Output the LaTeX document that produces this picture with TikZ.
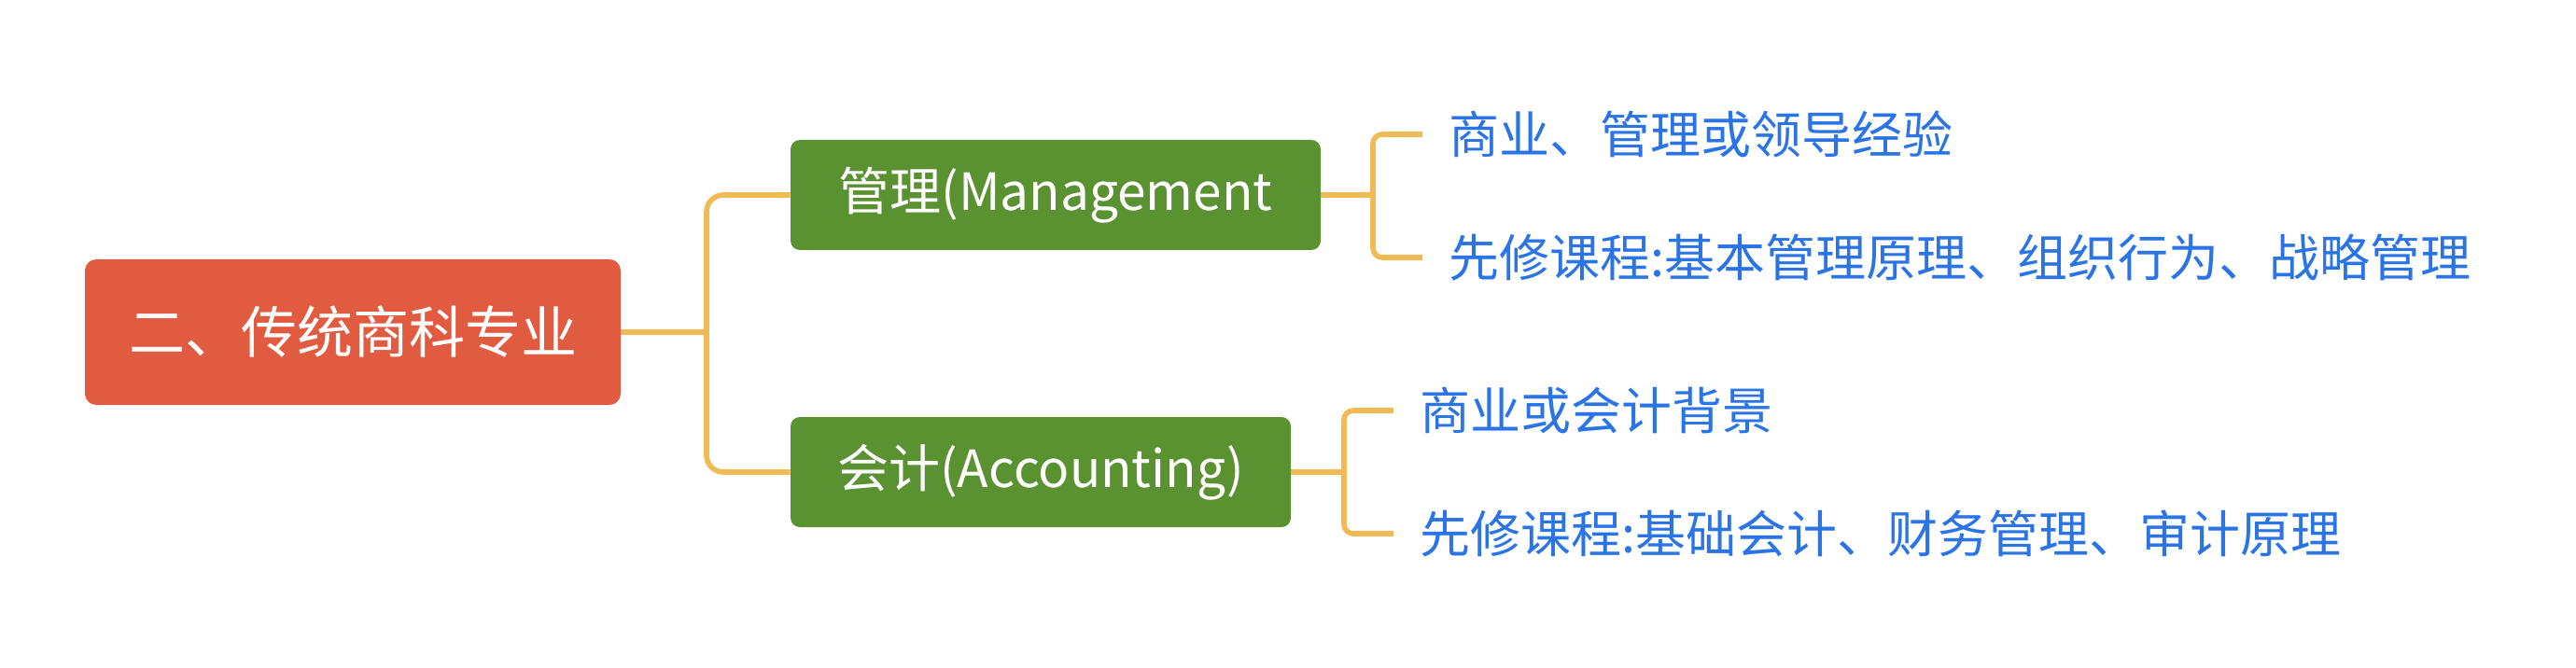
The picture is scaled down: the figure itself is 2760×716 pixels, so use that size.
\documentclass[tikz,border=0pt]{standalone}
\usepackage{fontspec}
\setmainfont{Noto Sans CJK SC}
\definecolor{rootred}{HTML}{E05B40}
\definecolor{topicgreen}{HTML}{5A9131}
\definecolor{linkyellow}{HTML}{F0BA55}
\definecolor{leafblue}{HTML}{2B74E6}

\begin{document}
\begin{tikzpicture}[x=0.5pt, y=-0.5pt,
    rootbox/.style={fill=rootred, text=white, rounded corners=6pt, minimum width=287pt, minimum height=78pt, font=\fontsize{30}{36}\selectfont},
    topic/.style={fill=topicgreen, text=white, rounded corners=5pt, minimum height=59pt, font=\fontsize{27.5}{33}\selectfont},
    leaf/.style={text=leafblue, anchor=west, inner xsep=14pt, inner ysep=0pt, font=\fontsize{27}{32}\selectfont},
    link/.style={linkyellow, line width=2.8pt, rounded corners=5pt}]
    \useasboundingbox (0,0) rectangle (2760,716);

    \node[rootbox] (root) at (378,356) {二、传统商科专业};
    \node[topic, minimum width=284pt] (mgmt) at (1131,209) {管理(Management};
    \node[topic, minimum width=268pt] (acct) at (1115,506) {会计(Accounting)};

    \node[leaf] (mgmtA) at (1524,144) {商业、管理或领导经验};
    \node[leaf] (mgmtB) at (1524,276) {先修课程:基本管理原理、组织行为、战略管理};
    \node[leaf] (acctA) at (1493,440) {商业或会计背景};
    \node[leaf] (acctB) at (1493,572) {先修课程:基础会计、财务管理、审计原理};

    \coordinate (rootfork) at (757,356);
    \coordinate (mgmtfork) at (1471,209);
    \coordinate (acctfork) at (1440,506);

    \draw[link] (root.east) -- (rootfork);
    \draw[link, rounded corners=9pt] (mgmt.west) -| (rootfork) |- (acct.west);

    \draw[link] (mgmt.east) -- (mgmtfork);
    \draw[link] (mgmtA.west) -| (mgmtfork) |- (mgmtB.west);

    \draw[link] (acct.east) -- (acctfork);
    \draw[link] (acctA.west) -| (acctfork) |- (acctB.west);
\end{tikzpicture}
\end{document}
